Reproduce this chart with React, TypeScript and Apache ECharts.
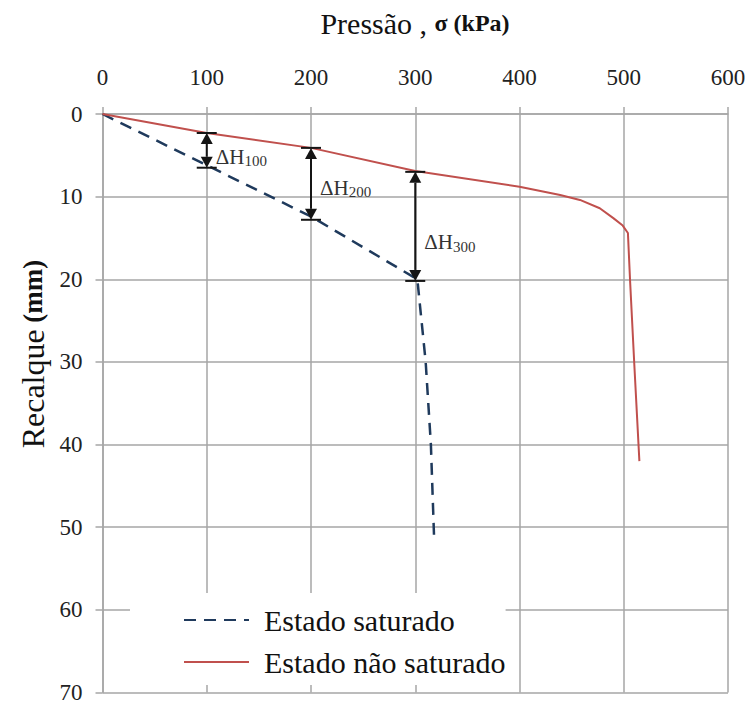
import React, { useEffect, useRef } from "react";
import * as echarts from "echarts";

// Estado saturado (dashed)
const saturatedPressure = [0, 100, 200, 302, 310, 315, 318];
const saturatedSettlement = [0, 6.2, 12.4, 20, 30, 40, 51];

// Estado não saturado (red)
const unsaturatedPressure = [0, 100, 200, 300, 400, 439, 458, 477, 490, 499, 504, 506, 510, 515];
const unsaturatedSettlement = [0, 2.3, 4.1, 6.9, 8.8, 9.8, 10.4, 11.4, 12.6, 13.5, 14.4, 20, 30, 42];

// ΔH arrows
const deltaPressure = [100, 200, 300];
const deltaTop = [2.3, 4.1, 7.0];
const deltaBottom = [6.5, 12.8, 20.2];
const deltaLabelY = [5.2, 8.9, 15.5];
const deltaLabels = ["100", "200", "300"];

const seriesNames = ["Estado saturado", "Estado não saturado"];

export default function App() {
  const ref = useRef<HTMLDivElement>(null);
  useEffect(() => {
    document.body.style.margin = "0";
    const chart = echarts.init(ref.current!, null, { renderer: "svg" });
    const serif = "Liberation Serif";
    const gridColor = "#a6a6a6";
    const arrowColor = "#151515";
    chart.setOption({
      animation: false,
      backgroundColor: "#fff",
      grid: { left: 102.5, right: 22, top: 114, bottom: 11 },
      xAxis: {
        type: "value",
        position: "top",
        min: 0,
        max: 600,
        interval: 100,
        axisLine: { show: true, lineStyle: { color: gridColor, width: 1.5 } },
        axisTick: { show: true, length: 7, lineStyle: { color: gridColor, width: 1.5 } },
        axisLabel: { margin: 25, fontFamily: serif, fontSize: 23, color: "#222" },
        splitLine: { show: true, lineStyle: { color: gridColor, width: 1.5 } },
      },
      yAxis: {
        type: "value",
        inverse: true,
        min: 0,
        max: 70,
        interval: 10,
        axisLine: { show: true, lineStyle: { color: gridColor, width: 1.5 } },
        axisTick: { show: true, length: 7, lineStyle: { color: gridColor, width: 1.5 } },
        axisLabel: { margin: 20, fontFamily: serif, fontSize: 23, color: "#222" },
        splitLine: { show: true, lineStyle: { color: gridColor, width: 1.5 } },
      },
      legend: {
        data: seriesNames,
        orient: "vertical",
        left: 130,
        top: 593,
        padding: [12, 0, 8, 53],
        backgroundColor: "#fff",
        itemWidth: 65,
        itemHeight: 14,
        itemGap: 12,
        itemStyle: { opacity: 0 },
        textStyle: {
          fontFamily: serif,
          fontSize: 30,
          lineHeight: 30,
          color: "#111",
          padding: [0, 0, 0, 10],
        },
      },
      graphic: [
        {
          type: "text",
          x: 415,
          y: 23,
          style: {
            text: "{a|Pressão , }{b|σ (kPa)}",
            align: "center",
            verticalAlign: "middle",
            rich: {
              a: { fontFamily: serif, fontSize: 30, fill: "#111", color: "#111" },
              b: { fontFamily: serif, fontSize: 24, fontWeight: "bold", fill: "#111", color: "#111" },
            },
          },
        },
        {
          type: "text",
          x: 33,
          y: 354,
          rotation: Math.PI / 2,
          style: {
            text: "{a|Recalque}  {b|(mm)}",
            align: "center",
            verticalAlign: "middle",
            rich: {
              a: { fontFamily: serif, fontSize: 32, fill: "#111", color: "#111" },
              b: { fontFamily: serif, fontSize: 27, fontWeight: "bold", fill: "#111", color: "#111" },
            },
          },
        },
      ],
      series: [
        {
          name: seriesNames[0],
          type: "line",
          symbol: "none",
          data: saturatedPressure.map((p, i) => [p, saturatedSettlement[i]]),
          lineStyle: { color: "#1f3a5c", width: 2.5, type: [12, 8] },
          itemStyle: { color: "#1f3a5c" },
          z: 3,
        },
        {
          name: seriesNames[1],
          type: "line",
          symbol: "none",
          data: unsaturatedPressure.map((p, i) => [p, unsaturatedSettlement[i]]),
          lineStyle: { color: "#c0504d", width: 2 },
          itemStyle: { color: "#c0504d" },
          z: 3,
        },
        {
          type: "custom",
          z: 4,
          encode: { x: 0, y: [1, 2] },
          data: deltaPressure.map((p, i) => [p, deltaTop[i], deltaBottom[i], deltaLabelY[i]]),
          renderItem: (params: any, api: any) => {
            const x = api.value(0);
            const top = api.coord([x, api.value(1)]);
            const bot = api.coord([x, api.value(2)]);
            const lab = api.coord([x, api.value(3)]);
            const idx = params.dataIndex;
            const h = 11;
            const w = 6;
            const cap = 10;
            return {
              type: "group",
              children: [
                {
                  type: "line",
                  shape: { x1: top[0], y1: top[1] + h, x2: bot[0], y2: bot[1] - h },
                  style: { stroke: arrowColor, lineWidth: 2 },
                },
                {
                  type: "polygon",
                  shape: { points: [[top[0], top[1]], [top[0] - w, top[1] + h], [top[0] + w, top[1] + h]] },
                  style: { fill: arrowColor },
                },
                {
                  type: "polygon",
                  shape: { points: [[bot[0], bot[1]], [bot[0] - w, bot[1] - h], [bot[0] + w, bot[1] - h]] },
                  style: { fill: arrowColor },
                },
                {
                  type: "line",
                  shape: { x1: top[0] - cap, y1: top[1], x2: top[0] + cap, y2: top[1] },
                  style: { stroke: arrowColor, lineWidth: 2 },
                },
                {
                  type: "line",
                  shape: { x1: bot[0] - cap, y1: bot[1], x2: bot[0] + cap, y2: bot[1] },
                  style: { stroke: arrowColor, lineWidth: 2 },
                },
                {
                  type: "text",
                  x: lab[0] + 9,
                  y: lab[1],
                  style: {
                    text: "{a|ΔH}{b|" + deltaLabels[idx] + "}",
                    align: "left",
                    verticalAlign: "middle",
                    rich: {
                      a: { fontFamily: serif, fontSize: 21, lineHeight: 24, fill: "#333", color: "#333" },
                      b: {
                        fontFamily: serif,
                        fontSize: 15,
                        lineHeight: 15,
                        verticalAlign: "bottom",
                        fill: "#333",
                        color: "#333",
                      },
                    },
                  },
                },
              ],
            };
          },
        },
      ],
    });
    return () => chart.dispose();
  }, []);
  return <div ref={ref} style={{ width: 750, height: 704 }} />;
}
